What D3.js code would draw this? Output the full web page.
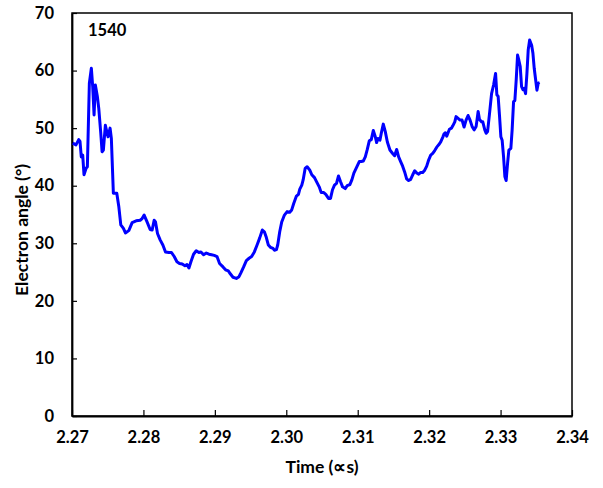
<!DOCTYPE html>
<html><head><meta charset="utf-8">
<script src="https://cdn.jsdelivr.net/npm/d3@7"></script>
<style>body{margin:0;background:#fff}svg text{font-family:Lato,"Open Sans",sans-serif;font-weight:bold}</style>
</head><body><svg id="c" width="603" height="488"></svg>
<script>
const times = [2.27010,2.27056,2.27094,2.27112,2.27130,2.27150,2.27168,2.27196,2.27215,2.27243,2.27271,2.27290,2.27309,2.27327,2.27355,2.27375,2.27403,2.27421,2.27439,2.27467,2.27487,2.27505,2.27533,2.27551,2.27579,2.27627,2.27655,2.27683,2.27720,2.27748,2.27795,2.27842,2.27898,2.27954,2.27982,2.28010,2.28048,2.28094,2.28122,2.28150,2.28169,2.28197,2.28234,2.28272,2.28309,2.28357,2.28393,2.28431,2.28469,2.28505,2.28543,2.28581,2.28609,2.28637,2.28665,2.28702,2.28739,2.28777,2.28805,2.28842,2.28880,2.28918,2.28954,2.28992,2.29030,2.29066,2.29114,2.29150,2.29188,2.29216,2.29254,2.29301,2.29338,2.29366,2.29403,2.29441,2.29479,2.29515,2.29553,2.29591,2.29627,2.29665,2.29693,2.29721,2.29749,2.29778,2.29815,2.29834,2.29862,2.29880,2.29908,2.29936,2.29974,2.30012,2.30048,2.30076,2.30104,2.30142,2.30170,2.30189,2.30217,2.30236,2.30264,2.30292,2.30329,2.30357,2.30395,2.30423,2.30461,2.30489,2.30525,2.30553,2.30591,2.30619,2.30647,2.30675,2.30703,2.30731,2.30760,2.30788,2.30825,2.30853,2.30890,2.30918,2.30946,2.30984,2.31022,2.31050,2.31078,2.31106,2.31134,2.31162,2.31190,2.31218,2.31246,2.31265,2.31283,2.31311,2.31330,2.31358,2.31386,2.31415,2.31451,2.31489,2.31517,2.31545,2.31573,2.31601,2.31629,2.31657,2.31685,2.31713,2.31741,2.31770,2.31798,2.31826,2.31854,2.31882,2.31910,2.31938,2.31966,2.31994,2.32022,2.32050,2.32078,2.32106,2.32134,2.32162,2.32190,2.32209,2.32228,2.32246,2.32265,2.32284,2.32312,2.32331,2.32359,2.32377,2.32405,2.32433,2.32461,2.32489,2.32517,2.32545,2.32573,2.32601,2.32629,2.32658,2.32686,2.32705,2.32733,2.32751,2.32779,2.32798,2.32818,2.32846,2.32874,2.32902,2.32930,2.32948,2.32966,2.32986,2.33004,2.33022,2.33042,2.33060,2.33078,2.33098,2.33116,2.33144,2.33162,2.33182,2.33200,2.33219,2.33238,2.33256,2.33275,2.33294,2.33313,2.33331,2.33350,2.33369,2.33387,2.33407,2.33435,2.33453,2.33471,2.33491,2.33509,2.33527,2.33547];
const angles = [47.4,47.1,48.0,47.7,45.0,45.3,41.9,43.0,43.3,57.8,60.4,57.2,52.3,57.5,55.5,53.4,49.1,45.9,46.2,50.5,49.4,48.5,50.0,48.2,38.7,38.7,36.4,33.2,32.6,31.8,32.2,33.6,33.9,34.0,34.3,34.9,33.8,32.4,32.3,34.0,33.7,31.7,30.6,29.7,28.5,28.4,28.4,27.7,26.8,26.5,26.4,26.1,26.3,25.7,26.8,28.1,28.7,28.4,28.5,28.0,28.3,28.1,28.0,27.9,27.7,26.5,25.9,25.4,25.2,24.7,24.1,23.9,24.2,24.9,25.9,27.0,27.4,27.7,28.5,29.7,30.9,32.3,32.0,31.0,29.7,29.3,29.1,28.8,28.9,29.7,32.0,33.7,34.9,35.5,35.4,35.8,36.9,38.2,38.5,39.4,40.1,41.0,43.0,43.3,42.7,41.9,41.4,40.7,39.8,38.8,38.8,38.5,37.8,37.8,39.3,40.1,40.4,41.7,40.7,39.8,39.5,40.0,40.2,41.0,42.2,43.2,44.2,44.2,44.3,45.0,46.3,47.8,48.0,49.6,48.5,47.5,48.2,47.9,49.1,50.7,49.4,47.6,46.2,45.6,45.2,46.3,45.0,44.2,43.4,42.4,41.2,40.9,41.1,41.9,42.6,42.2,42.0,42.3,42.3,42.7,43.4,44.5,45.3,45.6,46.1,46.7,47.1,47.6,48.4,49.0,49.2,48.6,49.2,49.8,50.0,50.4,51.1,52.0,51.7,51.4,51.4,50.2,51.4,52.2,51.4,50.3,49.7,50.3,52.9,51.5,51.1,51.1,49.7,49.1,49.4,52.6,56.0,57.5,59.5,55.8,55.5,52.0,48.5,47.9,45.0,41.6,40.9,43.9,46.2,46.5,49.7,54.6,54.8,58.4,62.7,61.8,60.7,57.2,56.7,56.9,56.0,59.5,63.6,65.3,64.4,63.0,60.4,58.4,56.6,57.8,57.9];
const xTicks = [2.27,2.28,2.29,2.30,2.31,2.32,2.33,2.34];
const yTicks = [0,10,20,30,40,50,60,70];
const seriesLabel = "1540";
const xTitle = "Time (\u221Ds)";
const yTitle = "Electron angle (\u00B0)";

const svg = d3.select("#c");
const L = 72, R = 572, T = 13, B = 416;
const x = d3.scaleLinear().domain([2.27, 2.34]).range([L, R]);
const y = d3.scaleLinear().domain([0, 70]).range([B, T]);

svg.append("rect").attr("x", L).attr("y", T).attr("width", R - L).attr("height", B - T)
  .attr("fill", "none").attr("stroke", "#000").attr("stroke-width", 1.5);

const xa = svg.append("g").attr("transform", `translate(0,${B})`)
  .call(d3.axisBottom(x).tickValues(xTicks).tickFormat(d3.format(".2f")).tickSizeInner(-6).tickSizeOuter(0).tickPadding(15));
const ya = svg.append("g").attr("transform", `translate(${L},0)`)
  .call(d3.axisLeft(y).tickValues(yTicks).tickFormat(d3.format("d")).tickSizeInner(-5).tickSizeOuter(0).tickPadding(18));
[xa, ya].forEach(g => {
  g.select(".domain").attr("stroke", "#000").attr("stroke-width", 1.8);
  g.selectAll(".tick line").attr("stroke", "#000").attr("stroke-width", 1.2);
  g.selectAll(".tick text").attr("fill", "#000").style("font-size", "16.5px").style("font-family", "Lato, sans-serif").style("font-weight", "bold");
});

const pts = times.map((t, i) => [t, angles[i]]);
svg.append("path").datum(pts)
  .attr("d", d3.line().x(d => x(d[0])).y(d => y(d[1])))
  .attr("fill", "none").attr("stroke", "#0000ff").attr("stroke-width", 3).attr("stroke-linejoin", "round");

svg.append("text").attr("x", 88).attr("y", 36).style("font-size", "16.5px").text(seriesLabel);
svg.append("text").attr("x", (L + R) / 2).attr("y", 473).attr("text-anchor", "middle").style("font-size", "17.5px").text(xTitle);
svg.append("text").attr("transform", `translate(28,230) rotate(-90)`).attr("text-anchor", "middle").style("font-size", "17.5px").text(yTitle);
</script></body></html>
